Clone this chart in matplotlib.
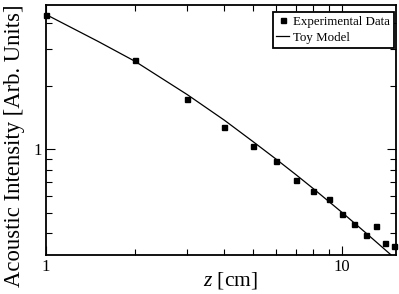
import numpy as np
import matplotlib
matplotlib.use("Agg")
import matplotlib.pyplot as plt
from matplotlib.ticker import LogLocator, NullFormatter, FixedLocator, FixedFormatter

plt.rcParams['font.family'] = ['Liberation Serif', 'DejaVu Serif']
plt.rcParams['mathtext.fontset'] = 'custom'
plt.rcParams['mathtext.it'] = 'Liberation Serif:italic'
plt.rcParams['mathtext.rm'] = 'Liberation Serif'

# measured points
z_data = [1, 2, 3, 4, 5, 6, 7, 8, 9, 10, 11, 12, 13, 14, 15]
i_data = [4.36, 2.65, 1.73, 1.28, 1.04, 0.88, 0.715, 0.636, 0.578, 0.492,
          0.441, 0.390, 0.432, 0.360, 0.347]

# toy model curve
z_model = [1.0, 1.5, 2.0, 3.0, 4.0, 5.0, 6.0, 7.0, 8.0, 10.0, 12.0, 14.6, 15.2]
i_model = [4.38, 3.26, 2.62, 1.82, 1.376, 1.088, 0.895, 0.755, 0.649, 0.500,
           0.401, 0.315, 0.300]

fig = plt.figure(figsize=(3.99, 2.94), dpi=100)
ax = fig.add_axes([46/399, 39/294, 350/399, 250/294])

ax.plot(z_model, i_model, color='black', lw=0.9, label='Toy Model')
ax.plot(z_data, i_data, 's', color='black', ms=3.6, label='Experimental Data',
        clip_on=False, zorder=3)

ax.set_xscale('log')
ax.set_yscale('log')
ax.set_xlim(1, 15.2)
ax.set_ylim(0.314, 4.86)

ax.xaxis.set_major_locator(FixedLocator([1, 10]))
ax.xaxis.set_major_formatter(FixedFormatter(['1', '10']))
ax.xaxis.set_minor_locator(LogLocator(base=10, subs=np.arange(2, 10)))
ax.xaxis.set_minor_formatter(NullFormatter())
ax.yaxis.set_major_locator(FixedLocator([1]))
ax.yaxis.set_major_formatter(FixedFormatter(['1']))
ax.yaxis.set_minor_locator(LogLocator(base=10, subs=np.arange(2, 10)))
ax.yaxis.set_minor_formatter(NullFormatter())

ax.tick_params(which='both', direction='in', top=True, right=True, labelsize=12,
               width=0.8, pad=3)
ax.tick_params(which='major', length=6.5)
ax.tick_params(which='minor', length=4)
for s in ax.spines.values():
    s.set_linewidth(1.3)

ax.set_xlabel(r'$z$ [cm]', fontsize=15.5)
ax.xaxis.set_label_coords((230 - 46) / 350, -0.06)
ax.xaxis.label.set_va('top')
fig.text(15/399, 1 - 146/294, 'Acoustic Intensity [Arb. Units]', fontsize=16.3,
         rotation=90, ha='center', va='center')

handles, labels = ax.get_legend_handles_labels()
leg = ax.legend(handles[::-1], labels[::-1], loc='upper right',
                bbox_to_anchor=((394 - 46) / 350, (255 - 12) / 250),
                fontsize=9.3, fancybox=False, framealpha=1, edgecolor='black',
                handlelength=1.0, handletextpad=0.3, borderpad=0.3,
                labelspacing=0.3, borderaxespad=0)
leg.get_frame().set_linewidth(1.3)

fig.savefig('out.png', dpi=100)
